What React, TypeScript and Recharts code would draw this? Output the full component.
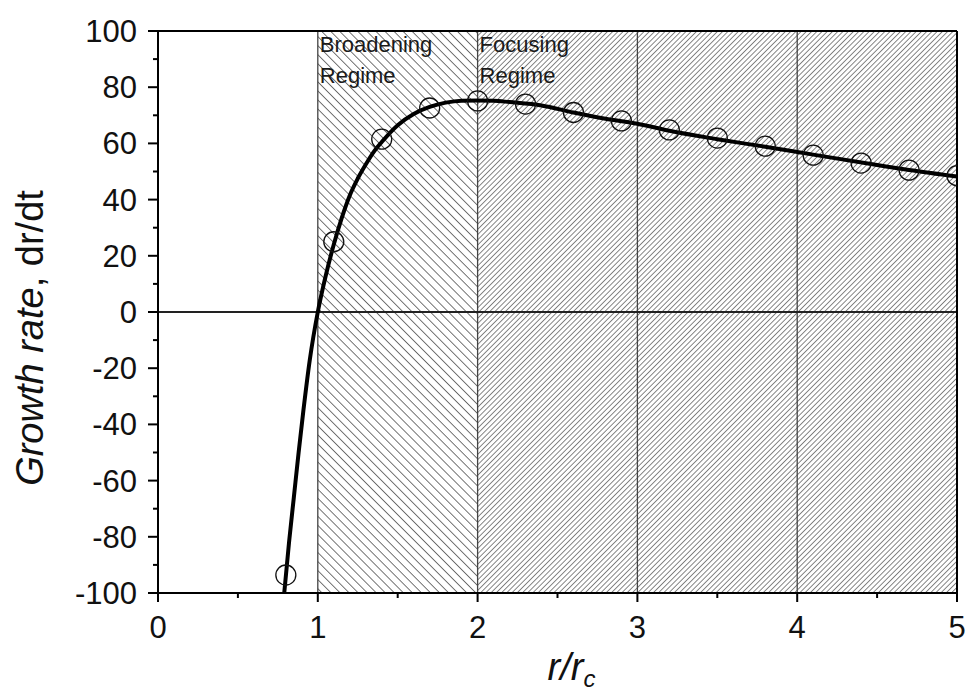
import {
  ComposedChart,
  Line,
  Scatter,
  XAxis,
  YAxis,
  ReferenceArea,
  ReferenceLine,
} from 'recharts';

// measured points (circles)
const pointX = [0.8, 1.1, 1.4, 1.7, 2.0, 2.3, 2.6, 2.9, 3.2, 3.5, 3.8, 4.1, 4.4, 4.7, 5.0];
const pointY = [-93.6, 25, 61.5, 72.6, 75.1, 74, 71, 68, 64.8, 61.9, 59, 55.8, 53, 50.5, 48.5];

// fitted curve
const curveX = [0.79, 0.82, 0.85, 0.88, 0.91, 0.95, 1.0, 1.05, 1.1, 1.15, 1.2, 1.25, 1.3, 1.35, 1.4, 1.5, 1.6, 1.7, 1.8, 1.9, 2.0, 2.1, 2.2, 2.4, 2.6, 2.8, 3.0, 3.2, 3.5, 3.8, 4.1, 4.5, 4.7, 5.0];
const curveY = [-100, -82, -66, -50, -35, -17, 0, 13, 24, 33.5, 41.5, 47.5, 52.5, 57, 60.5, 66.5, 70.5, 73, 74.5, 75.2, 75.3, 75.2, 74.7, 73.5, 71, 68.8, 67, 64.5, 61.5, 58.8, 56, 52.3, 50.5, 48.2];

const xTicks = [0, 0.5, 1, 1.5, 2, 2.5, 3, 3.5, 4, 4.5, 5];
const yTicks = [-100, -90, -80, -70, -60, -50, -40, -30, -20, -10, 0, 10, 20, 30, 40, 50, 60, 70, 80, 90, 100];
const gridX = [1, 2, 3, 4];
const broadeningLabel = ['Broadening', 'Regime'];
const focusingLabel = ['Focusing', 'Regime'];

const points = pointX.map((x, i) => ({ x, y: pointY[i] }));
const curve = curveX.map((x, i) => ({ x, y: curveY[i] }));

const FONT = '"Liberation Sans", Arial, sans-serif';

const BottomTick = (props: any) => {
  const { x, y, payload } = props;
  const major = Number.isInteger(payload.value);
  return (
    <g>
      <line x1={x} x2={x} y1={y} y2={y + (major ? 9 : 5)} stroke="#000" strokeWidth={2} />
      {major && (
        <text x={x} y={y + 45} textAnchor="middle" fontSize={31} fontFamily={FONT} fill="#111">
          {payload.value}
        </text>
      )}
    </g>
  );
};

const TopTick = (props: any) => {
  const { x, y, payload } = props;
  const major = Number.isInteger(payload.value);
  return <line x1={x} x2={x} y1={y} y2={y + (major ? 9 : 5)} stroke="#000" strokeWidth={2} />;
};

const LeftTick = (props: any) => {
  const { x, y, payload } = props;
  const major = payload.value % 20 === 0;
  return (
    <g>
      <line x1={x} x2={x - (major ? 10 : 5)} y1={y} y2={y} stroke="#000" strokeWidth={2} />
      {major && (
        <text x={x - 21} y={y + 11} textAnchor="end" fontSize={31} fontFamily={FONT} fill="#111">
          {payload.value}
        </text>
      )}
    </g>
  );
};

const RightTick = (props: any) => {
  const { x, y, payload } = props;
  const major = payload.value % 20 === 0;
  return <line x1={x} x2={x - (major ? 10 : 5)} y1={y} y2={y} stroke="#000" strokeWidth={2} />;
};

const RegimeText = (props: any) => {
  const { viewBox, lines } = props;
  if (!viewBox) return null;
  return (
    <g>
      {lines.map((t: string, i: number) => (
        <text key={t} x={viewBox.x + 2} y={viewBox.y + 21 + i * 31} fontSize={22} fontFamily={FONT} fill="#1a1a1a">
          {t}
        </text>
      ))}
    </g>
  );
};

const YTitle = (props: any) => {
  const vb = props.viewBox;
  if (!vb) return null;
  const x = vb.x + 43;
  const y = vb.y + vb.height / 2 + 26;
  return (
    <text x={x} y={y} transform={`rotate(-90 ${x} ${y})`} textAnchor="middle" fontSize={38} fontFamily={FONT} fill="#111">
      <tspan fontStyle="italic">Growth rate</tspan>
      <tspan>, dr/dt</tspan>
    </text>
  );
};

const XTitle = (props: any) => {
  const vb = props.viewBox;
  if (!vb) return null;
  return (
    <text x={vb.x + vb.width / 2 + 14} y={vb.y + 87} textAnchor="middle" fontSize={38} fontFamily={FONT} fill="#111" fontStyle="italic">
      <tspan>r/r</tspan>
      <tspan fontSize={24} dy={7}>c</tspan>
    </text>
  );
};

export default function App() {
  return (
    <div style={{ width: 969, height: 695, background: '#fff' }}>
      <style>{'body{margin:0}'}</style>
      <ComposedChart width={969} height={695} margin={{ top: 0, right: 0, bottom: 0, left: 0 }}>
        <defs>
          <pattern id="hatchBack" width="6.4" height="6.4" patternUnits="userSpaceOnUse" patternTransform="rotate(-45)">
            <line x1="0" y1="0" x2="0" y2="6.4" stroke="#1a1a1a" strokeWidth={1.2} />
          </pattern>
          <pattern id="hatchFwd" width="3.7" height="3.7" patternUnits="userSpaceOnUse" patternTransform="rotate(45)">
            <line x1="0" y1="0" x2="0" y2="3.7" stroke="#222" strokeWidth={1.1} />
          </pattern>
        </defs>
        <XAxis
          dataKey="x"
          type="number"
          domain={[0, 5]}
          ticks={xTicks}
          interval={0}
          height={102}
          tickSize={0}
          tickMargin={0}
          axisLine={{ stroke: '#000', strokeWidth: 2 }}
          tickLine={false}
          tick={BottomTick}
          allowDataOverflow
          label={{ content: (p: any) => <XTitle viewBox={p.viewBox} /> }}
        />
        <XAxis
          xAxisId="top"
          orientation="top"
          type="number"
          domain={[0, 5]}
          ticks={xTicks}
          interval={0}
          height={31}
          tickSize={0}
          tickMargin={0}
          axisLine={{ stroke: '#000', strokeWidth: 2 }}
          tickLine={false}
          tick={TopTick}
        />
        <YAxis
          dataKey="y"
          type="number"
          domain={[-100, 100]}
          ticks={yTicks}
          interval={0}
          width={158}
          tickSize={0}
          tickMargin={0}
          axisLine={{ stroke: '#000', strokeWidth: 2 }}
          tickLine={false}
          tick={LeftTick}
          allowDataOverflow
          label={{ content: (p: any) => <YTitle viewBox={p.viewBox} /> }}
        />
        <YAxis
          yAxisId="right"
          orientation="right"
          type="number"
          domain={[-100, 100]}
          ticks={yTicks}
          interval={0}
          width={12}
          tickSize={0}
          tickMargin={0}
          axisLine={{ stroke: '#000', strokeWidth: 2 }}
          tickLine={false}
          tick={RightTick}
        />
        <ReferenceArea
          x1={1}
          x2={2}
          y1={-100}
          y2={100}
          fill="url(#hatchBack)"
          fillOpacity={1}
          stroke="none"
          label={<RegimeText lines={broadeningLabel} />}
        />
        <ReferenceArea
          x1={2}
          x2={5}
          y1={-100}
          y2={100}
          fill="url(#hatchFwd)"
          fillOpacity={1}
          stroke="none"
          label={<RegimeText lines={focusingLabel} />}
        />
        {gridX.map((gx) => (
          <ReferenceLine key={gx} x={gx} stroke="#444" strokeWidth={1.3} />
        ))}
        <ReferenceLine y={0} stroke="#222" strokeWidth={2} />
        <Line
          data={curve}
          dataKey="y"
          type="monotone"
          stroke="#000"
          strokeWidth={4}
          dot={false}
          isAnimationActive={false}
        />
        <Scatter
          data={points}
          dataKey="y"
          isAnimationActive={false}
          shape={(p: any) => <circle cx={p.cx} cy={p.cy} r={10} fill="none" stroke="#111" strokeWidth={1.3} />}
        />
      </ComposedChart>
    </div>
  );
}
